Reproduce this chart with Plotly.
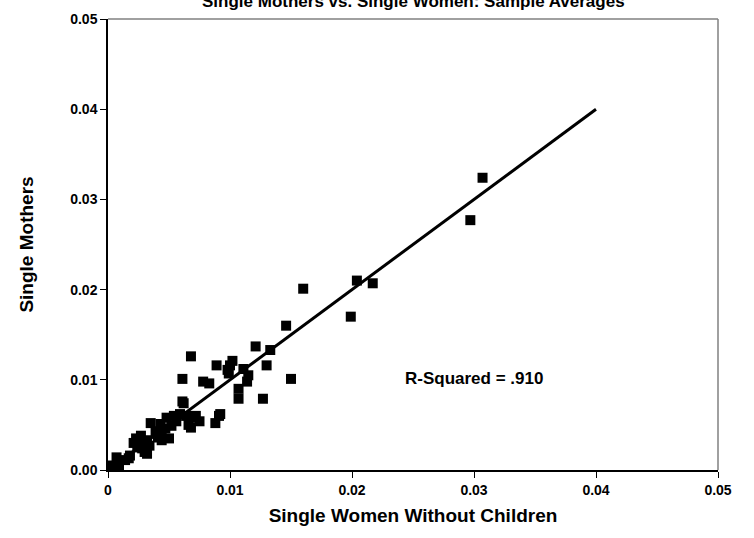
import plotly.graph_objects as go

women_no_children = [
    0.0307, 0.0297, 0.0217, 0.0204, 0.0199, 0.0160, 0.0146, 0.0150, 0.0133, 0.0130,
    0.0127, 0.0121, 0.0089, 0.0102, 0.0100, 0.0098, 0.0099, 0.0111, 0.0115, 0.0114,
    0.0078, 0.0083, 0.0107, 0.0107, 0.0068, 0.0061, 0.0061, 0.0092, 0.0088, 0.0007,
    0.0003, 0.0009, 0.0017, 0.0021, 0.0027, 0.0024, 0.0032, 0.0032, 0.0035, 0.0043,
    0.0044, 0.0052, 0.0050, 0.0054, 0.0062, 0.0064, 0.0072, 0.0068, 0.0091, 0.0070,
    0.0059, 0.0048, 0.0028, 0.0023, 0.0025, 0.0030, 0.0039, 0.0041, 0.0047, 0.0056,
    0.0075, 0.0066, 0.0018, 0.0014, 0.0034, 0.0044,
]
single_mothers = [
    0.0324, 0.0277, 0.0207, 0.0210, 0.0170, 0.0201, 0.0160, 0.0101, 0.0133, 0.0116,
    0.0079, 0.0137, 0.0116, 0.0121, 0.0116, 0.0111, 0.0107, 0.0112, 0.0105, 0.0098,
    0.0098, 0.0096, 0.0090, 0.0079, 0.0126, 0.0101, 0.0076, 0.0062, 0.0052, 0.0014,
    0.0005, 0.0005, 0.0013, 0.0030, 0.0038, 0.0025, 0.0033, 0.0018, 0.0052, 0.0051,
    0.0040, 0.0049, 0.0035, 0.0060, 0.0074, 0.0060, 0.0060, 0.0047, 0.0060, 0.0058,
    0.0062, 0.0058, 0.0024, 0.0035, 0.0029, 0.0020, 0.0043, 0.0036, 0.0046, 0.0054,
    0.0054, 0.0050, 0.0016, 0.0011, 0.0027, 0.0033,
]
fit_x = [0.0, 0.04]
fit_y = [0.0, 0.04]

x_tickvals = [0, 0.01, 0.02, 0.03, 0.04, 0.05]
x_ticktext = ["0", "0.01", "0.02", "0.03", "0.04", "0.05"]
y_tickvals = [0, 0.01, 0.02, 0.03, 0.04, 0.05]
y_ticktext = ["0.00", "0.01", "0.02", "0.03", "0.04", "0.05"]

FONT = "Liberation Sans, Arial, sans-serif"

fig = go.Figure()
fig.add_trace(go.Scatter(
    x=women_no_children, y=single_mothers, mode="markers",
    marker=dict(symbol="square", size=10, color="black"),
    showlegend=False, cliponaxis=False,
))
fig.add_trace(go.Scatter(
    x=fit_x, y=fit_y, mode="lines",
    line=dict(color="black", width=3),
    showlegend=False,
))

fig.add_annotation(
    x=0.030, y=0.0101, xref="x", yref="y",
    text="<b>R-Squared = .910</b>", showarrow=False,
    font=dict(family=FONT, size=17, color="black"),
)
fig.add_annotation(
    x=0.5, y=1.0, xref="paper", yref="paper", yshift=6,
    xanchor="center", yanchor="bottom",
    text="<b>Single Mothers vs. Single Women: Sample Averages</b>", showarrow=False,
    font=dict(family=FONT, size=17, color="black"),
)

fig.update_layout(
    width=754, height=538,
    margin=dict(l=108, r=36, t=11, b=68),
    paper_bgcolor="white", plot_bgcolor="white",
    font=dict(family=FONT, color="black"),
)
fig.update_xaxes(
    range=[0, 0.05], tickvals=x_tickvals, ticktext=x_ticktext,
    showgrid=False, zeroline=False,
    showline=True, linecolor="black", linewidth=1.5, mirror=False,
    ticks="outside", ticklen=6, tickcolor="black", tickwidth=1,
    tickfont=dict(family=FONT, size=14, color="black", weight="bold"),
    title=dict(text="<b>Single Women Without Children</b>", font=dict(family=FONT, size=19), standoff=12),
)
fig.update_yaxes(
    range=[0, 0.05], tickvals=y_tickvals, ticktext=y_ticktext,
    showgrid=False, zeroline=False,
    showline=True, linecolor="black", linewidth=1.5, mirror=False,
    ticks="outside", ticklen=6, tickcolor="black", tickwidth=1,
    tickfont=dict(family=FONT, size=14, color="black", weight="bold"),
    title=dict(text="<b>Single Mothers</b>", font=dict(family=FONT, size=19), standoff=32),
)
# gray frame on top and right
fig.add_shape(type="line", xref="paper", yref="paper", x0=0, x1=1, y0=1, y1=1,
              line=dict(color="#808080", width=1.5))
fig.add_shape(type="line", xref="paper", yref="paper", x0=1, x1=1, y0=0, y1=1,
              line=dict(color="#808080", width=1.5))

fig.write_html("out.html")
